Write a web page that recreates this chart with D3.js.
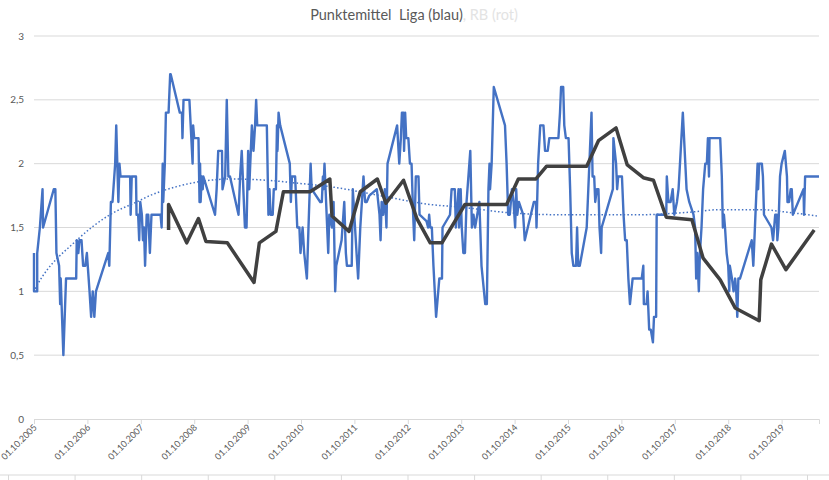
<!DOCTYPE html>
<html>
<head>
<meta charset="utf-8">
<script src="https://cdn.jsdelivr.net/npm/d3@7"></script>
<style>
  body { margin: 0; background: #fff; }
  svg { display: block; font-family: Lato, "Open Sans", sans-serif; }
</style>
</head>
<body>
<script>
// Liga (blau): Punktemittel je Spieltag, x als Dezimaljahr
var blueYears = [
  2005.75, 2005.75, 2005.81, 2005.81, 2005.86, 2005.91, 2005.92, 2006.12, 2006.15, 2006.17,
  2006.22, 2006.24, 2006.25, 2006.30, 2006.35, 2006.54, 2006.55, 2006.58, 2006.60, 2006.64,
  2006.67, 2006.71, 2006.74, 2006.79, 2006.82, 2006.85, 2006.88, 2006.91, 2007.14, 2007.16,
  2007.19, 2007.22, 2007.27, 2007.29, 2007.31, 2007.33, 2007.35, 2007.37, 2007.55, 2007.56,
  2007.58, 2007.66, 2007.67, 2007.70, 2007.72, 2007.74, 2007.77, 2007.79, 2007.81, 2007.83,
  2007.86, 2007.89, 2007.92, 2007.95, 2008.12, 2008.14, 2008.16, 2008.17, 2008.20, 2008.22,
  2008.27, 2008.30, 2008.31, 2008.48, 2008.52, 2008.53, 2008.55, 2008.66, 2008.72, 2008.73,
  2008.75, 2008.83, 2008.85, 2008.86, 2008.87, 2008.89, 2008.91, 2008.92, 2009.14, 2009.17,
  2009.20, 2009.27, 2009.28, 2009.33, 2009.36, 2009.39, 2009.42, 2009.58, 2009.61, 2009.64,
  2009.66, 2009.70, 2009.73, 2009.76, 2009.78, 2009.81, 2009.83, 2009.86, 2009.89, 2009.91,
  2009.93, 2010.11, 2010.14, 2010.16, 2010.18, 2010.22, 2010.24, 2010.28, 2010.30, 2010.31,
  2010.33, 2010.36, 2010.54, 2010.56, 2010.58, 2010.64, 2010.68, 2010.72, 2010.74, 2010.78,
  2010.81, 2010.86, 2010.89, 2010.93, 2010.95, 2011.11, 2011.14, 2011.16, 2011.17, 2011.19,
  2011.22, 2011.26, 2011.28, 2011.33, 2011.36, 2011.39, 2011.41, 2011.51, 2011.56, 2011.59,
  2011.61, 2011.70, 2011.72, 2011.79, 2011.82, 2011.86, 2011.92, 2011.95, 2011.98, 2012.03,
  2012.17, 2012.22, 2012.24, 2012.26, 2012.29, 2012.32, 2012.35, 2012.37, 2012.55, 2012.59,
  2012.62, 2012.64, 2012.67, 2012.68, 2012.70, 2012.72, 2012.76, 2012.79, 2012.82, 2012.85,
  2012.87, 2012.90, 2012.95, 2012.97, 2013.10, 2013.13, 2013.15, 2013.17, 2013.20, 2013.23,
  2013.28, 2013.30, 2013.34, 2013.39, 2013.40, 2013.54, 2013.57, 2013.63, 2013.65, 2013.70,
  2013.71, 2013.74, 2013.76, 2013.79, 2013.82, 2013.85, 2013.92, 2013.95, 2013.98, 2014.01,
  2014.09, 2014.13, 2014.20, 2014.23, 2014.26, 2014.28, 2014.29, 2014.32, 2014.36, 2014.57,
  2014.60, 2014.63, 2014.66, 2014.70, 2014.73, 2014.76, 2014.78, 2014.80, 2014.83, 2014.91,
  2014.94, 2015.11, 2015.15, 2015.16, 2015.19, 2015.23, 2015.29, 2015.32, 2015.37, 2015.40,
  2015.57, 2015.60, 2015.62, 2015.66, 2015.68, 2015.71, 2015.76, 2015.79, 2015.82, 2015.85,
  2015.90, 2015.92, 2015.94, 2015.97, 2016.10, 2016.13, 2016.16, 2016.19, 2016.21, 2016.24,
  2016.26, 2016.29, 2016.32, 2016.34, 2016.37, 2016.38, 2016.59, 2016.60, 2016.65, 2016.67,
  2016.69, 2016.76, 2016.79, 2016.82, 2016.85, 2016.88, 2016.91, 2016.96, 2017.13, 2017.16,
  2017.17, 2017.22, 2017.24, 2017.27, 2017.30, 2017.34, 2017.36, 2017.40, 2017.41, 2017.59,
  2017.60, 2017.63, 2017.67, 2017.71, 2017.74, 2017.79, 2017.82, 2017.90, 2017.97, 2018.02,
  2018.10, 2018.13, 2018.15, 2018.17, 2018.20, 2018.22, 2018.25, 2018.28, 2018.32, 2018.35,
  2018.37, 2018.39, 2018.40, 2018.60, 2018.63, 2018.65, 2018.67, 2018.69, 2018.72, 2018.75,
  2018.77, 2018.78, 2018.82, 2018.85, 2018.88, 2018.90, 2018.92, 2018.94, 2018.97, 2019.19,
  2019.22, 2019.30, 2019.31, 2019.33, 2019.38, 2019.40, 2019.42, 2019.56, 2019.59, 2019.63,
  2019.66, 2019.67, 2019.69, 2019.72, 2019.75, 2019.81, 2019.85, 2019.86, 2019.89, 2019.92,
  2019.94, 2019.96, 2020.16, 2020.17, 2020.19, 2020.45
];
var blueValues = [
  1.3, 1.0, 1.0, 1.3, 1.5, 1.8, 1.5, 1.8, 1.8, 1.3,
  1.2, 0.9, 1.1, 0.5, 1.1, 1.1, 1.4, 1.3, 1.4, 1.4,
  1.2, 1.2, 1.3, 1.0, 0.8, 1.0, 0.8, 1.0, 1.3, 1.2,
  1.7, 1.7, 2.0, 2.3, 2.0, 1.7, 2.0, 1.9, 1.9, 1.6,
  1.9, 1.9, 1.6, 1.6, 1.4, 1.7, 1.6, 1.4, 1.5, 1.2,
  1.6, 1.6, 1.3, 1.6, 1.6, 1.5, 2.0, 1.7, 2.0, 2.4,
  2.4, 2.7, 2.7, 2.4, 2.4, 2.2, 2.5, 2.5, 2.0, 2.3,
  2.2, 2.2, 1.7, 2.0, 1.7, 1.9, 1.8, 1.9, 1.6, 1.8,
  2.1, 2.1, 1.8, 1.9, 2.5, 1.9, 1.9, 1.6, 1.9, 2.1,
  1.9, 1.5, 1.5, 2.1, 1.8, 2.1, 2.3, 2.1, 2.3, 2.5,
  2.3, 2.3, 1.6, 1.8, 1.6, 1.6, 1.8, 1.8, 2.3, 2.1,
  2.4, 2.3, 2.0, 1.7, 1.9, 1.9, 1.5, 1.5, 1.3, 1.5,
  1.3, 1.1, 1.5, 2.0, 1.8, 1.7, 1.7, 1.9, 1.8, 2.0,
  1.7, 1.3, 1.6, 1.5, 1.7, 1.0, 1.2, 1.4, 1.7, 1.3,
  1.2, 1.2, 1.8, 1.3, 1.1, 1.5, 1.9, 1.7, 1.7, 1.75,
  1.8, 1.6, 1.4, 1.7, 1.6, 1.8, 1.5, 2.0, 2.3, 2.0,
  2.2, 2.4, 2.4, 2.1, 2.4, 2.2, 2.2, 2.0, 2.0, 1.6,
  1.4, 1.9, 1.9, 1.6, 1.55, 1.5, 1.6, 1.5, 1.5, 1.2,
  0.8, 0.9, 1.1, 1.1, 1.5, 1.6, 1.8, 1.8, 1.5, 1.8,
  1.5, 1.8, 1.5, 1.3, 1.3, 1.7, 2.1, 1.5, 1.6, 1.5,
  1.7, 1.2, 0.9, 0.9, 1.8, 2.0, 1.8, 2.0, 2.6, 2.3,
  2.0, 1.6, 1.6, 1.8, 1.7, 1.5, 1.8, 1.6, 1.7, 1.6,
  1.4, 1.7, 1.7, 1.5, 2.0, 2.3, 2.3, 2.1, 2.1, 2.2,
  2.2, 2.4, 2.6, 2.6, 2.3, 2.2, 2.2, 1.8, 1.3, 1.2,
  1.2, 1.5, 1.2, 1.2, 1.5, 1.8, 2.1, 2.4, 1.9, 1.9,
  1.7, 1.8, 1.8, 1.5, 1.3, 1.5, 1.8, 2.2, 2.0, 1.8,
  1.9, 1.9, 1.6, 1.4, 1.4, 1.1, 0.9, 1.1, 1.1, 1.2,
  0.9, 0.9, 1.0, 0.7, 0.7, 0.6, 0.8, 0.8, 1.6, 1.6,
  1.9, 1.7, 1.7, 1.8, 1.6, 1.7, 1.8, 2.4, 1.8, 1.7,
  1.6, 1.5, 1.1, 1.3, 1.0, 1.3, 1.5, 1.8, 2.0, 2.0,
  2.2, 1.9, 2.2, 2.2, 1.9, 1.5, 1.6, 1.5, 1.3, 1.2,
  1.0, 1.2, 1.1, 1.0, 1.1, 1.0, 0.8, 1.1, 1.1, 1.4,
  1.2, 2.0, 1.8, 2.0, 2.0, 1.9, 1.6, 1.5, 1.4, 1.6,
  1.6, 1.4, 1.5, 1.9, 2.0, 2.1, 1.9, 1.7, 1.7, 1.8,
  1.8, 1.6, 1.8, 1.6, 1.9, 1.9
];

// RB (rot, hier dunkelgrau gezeichnet)
var rbYears = [
  2008.27, 2008.27, 2008.61, 2008.83, 2008.97, 2009.37, 2009.87, 2009.97, 2010.28, 2010.42,
  2010.92, 2011.29, 2011.33, 2011.65, 2011.86, 2012.18, 2012.34, 2012.67, 2012.92, 2013.17,
  2013.39, 2013.82, 2014.60, 2014.82, 2015.15, 2015.35, 2016.10, 2016.32, 2016.65, 2016.86,
  2017.16, 2017.35, 2017.59, 2018.07, 2018.28, 2018.60, 2018.88, 2019.33, 2019.36, 2019.56,
  2019.83, 2020.36
];
var rbValues = [
  1.48, 1.68, 1.38, 1.57, 1.39, 1.38, 1.07, 1.38, 1.47, 1.78,
  1.78, 1.88, 1.59, 1.47, 1.78, 1.88, 1.69, 1.87, 1.57, 1.38,
  1.38, 1.68, 1.68, 1.88, 1.88, 1.98, 1.98, 2.18, 2.28, 1.99,
  1.89, 1.87, 1.58, 1.56, 1.26, 1.09, 0.87, 0.77, 1.09, 1.37,
  1.17, 1.48
];

// Trendlinie (Liga)
var trendYears = [2005.77, 2005.81, 2006.55, 2007.17, 2007.67, 2007.92, 2008.42, 2008.86, 2009.48,
  2010.11, 2010.73, 2011.29, 2012.23, 2013.17, 2013.73, 2014.66, 2015.60, 2017.10, 2018.03,
  2018.60, 2019.35, 2019.85, 2020.41];
var trendValues = [1.02, 1.05, 1.40, 1.60, 1.70, 1.75, 1.82, 1.86, 1.88,
  1.87, 1.845, 1.82, 1.75, 1.68, 1.66, 1.615, 1.60, 1.60, 1.62,
  1.64, 1.64, 1.62, 1.59];

var yTicks = [0, 0.5, 1, 1.5, 2, 2.5, 3];
var xTickYears = [2005, 2006, 2007, 2008, 2009, 2010, 2011, 2012, 2013, 2014, 2015, 2016, 2017, 2018, 2019];
var secondaryTicks = [0, 1, 2, 3, 4, 5, 6, 7, 8, 9, 10, 11, 12];

var width = 829, height = 480;
var margin = {left: 34, right: 10, top: 36, bottom: 61};

var svg = d3.select("body").append("svg").attr("width", width).attr("height", height);

var x = d3.scaleLinear().domain([2005.75, 2020.45]).range([margin.left, width - margin.right]);
var y = d3.scaleLinear().domain([0, 3]).range([height - margin.bottom, margin.top]);
var fmt = d3.format(".1f");

// gridlines
svg.append("g")
    .selectAll("line")
    .data(yTicks.slice(1))
    .enter().append("line")
    .attr("x1", x.range()[0]).attr("x2", x.range()[1])
    .attr("y1", function (d) { return y(d); })
    .attr("y2", function (d) { return y(d); })
    .attr("stroke", "#d9d9d9").attr("stroke-width", 1);

// y labels
svg.append("g")
    .selectAll("text")
    .data(yTicks)
    .enter().append("text")
    .attr("x", 24)
    .attr("y", function (d) { return y(d) + 3.5; })
    .attr("text-anchor", "end")
    .attr("font-size", 10)
    .attr("fill", "#595959")
    .text(function (d) { return d % 1 === 0 ? d : fmt(d).replace(".", ","); });

// x axis
var xAxis = d3.axisBottom(x)
    .tickValues(xTickYears.map(function (d) { return d + 0.75; }))
    .tickSize(5)
    .tickFormat(function (d) { return "01.10." + Math.floor(d); });
var gx = svg.append("g")
    .attr("transform", "translate(0," + y(0) + ")")
    .call(xAxis);
gx.select(".domain").attr("stroke", "#d9d9d9");
gx.selectAll(".tick line").attr("stroke", "#d9d9d9");
gx.selectAll(".tick text")
    .attr("fill", "#595959")
    .attr("font-size", 9)
    .attr("font-family", "Lato, sans-serif")
    .attr("text-anchor", "end")
    .attr("dy", null)
    .attr("y", 0)
    .attr("transform", "translate(3,9) rotate(-45)");

// secondary axis (unlabelled) at the bottom
var x2 = d3.scaleLinear().domain([0, 12]).range([8, 807]);
var gx2 = svg.append("g")
    .attr("transform", "translate(0,475)")
    .call(d3.axisBottom(x2).tickValues(secondaryTicks).tickSize(6).tickFormat(""));
gx2.select(".domain").attr("stroke", "#d9d9d9").attr("d", "M0,0H829");
gx2.selectAll(".tick line").attr("stroke", "#d9d9d9");

var line = d3.line()
    .x(function (d) { return x(d[0]); })
    .y(function (d) { return y(d[1]); });

var bluePts = d3.zip(blueYears, blueValues);
var rbPts = d3.zip(rbYears, rbValues);
var trendPts = d3.zip(trendYears, trendValues);

svg.append("path")
    .datum(bluePts)
    .attr("d", line)
    .attr("fill", "none")
    .attr("stroke", "#4472c4")
    .attr("stroke-width", 2.4)
    .attr("stroke-linejoin", "round");

svg.append("path")
    .datum(trendPts)
    .attr("d", line.curve(d3.curveMonotoneX))
    .attr("fill", "none")
    .attr("stroke", "#4472c4")
    .attr("stroke-width", 1.5)
    .attr("stroke-dasharray", "1.5,2.2");

line.curve(d3.curveLinear);

svg.append("path")
    .datum(rbPts)
    .attr("d", line)
    .attr("fill", "none")
    .attr("stroke", "#404040")
    .attr("stroke-width", 3.5)
    .attr("stroke-linejoin", "round");

// title
var title = svg.append("text")
    .attr("x", 414)
    .attr("y", 20)
    .attr("text-anchor", "middle")
    .attr("font-size", 14.5)
    .style("white-space", "pre");
title.append("tspan").attr("fill", "#595959").text("Punktemittel  Liga (blau)");
title.append("tspan").attr("fill", "#e3e3e3").text(", RB (rot)");
</script>
</body>
</html>
